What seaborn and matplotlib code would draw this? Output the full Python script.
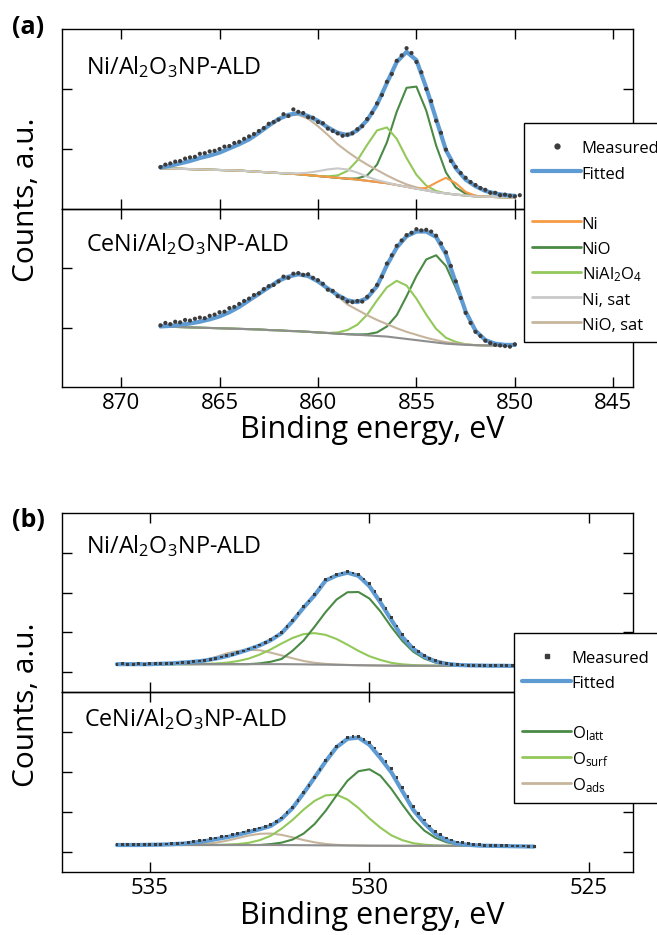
import numpy as np
import matplotlib
matplotlib.use("Agg")
import matplotlib.pyplot as plt
import seaborn as sns
from matplotlib.lines import Line2D

# ---------------- Panel (a): Ni 2p, energy grid 868 -> 850 eV (0.5 eV), measured 0.25 eV
a_grid = np.arange(868.0, 849.9, -0.5)
a1_meas_x = np.arange(868.0, 849.6, -0.25)
a2_meas_x = np.arange(868.0, 849.9, -0.25)

# top: Ni/Al2O3NP-ALD
a1_bg = [.68, .675, .67, .665, .66, .655, .65, .645, .64, .63,
         .62, .61, .60, .59, .58, .565, .55, .535, .52, .505,
         .49, .47, .45, .43, .40, .37, .34, .31, .28, .26,
         .24, .225, .21, .205, .20, .195, .19]
a1_fit = [.69, .72, .76, .80, .85, .89, .94, 1.01, 1.08, 1.16,
          1.27, 1.39, 1.50, 1.57, 1.60, 1.55, 1.47, 1.36, 1.27, 1.23,
          1.31, 1.48, 1.74, 2.10, 2.45, 2.62, 2.48, 2.02, 1.50, .98,
          .68, .49, .38, .30, .26, .23, .22]
a1_ni = [0] * 27 + [.04, .16, .26, .19, .06, .01, 0, 0, 0, 0]
a1_nio = [0] * 20 + [.02, .09, .29, .68, 1.22, 1.65, 1.70, 1.33, .78, .35, .12, .03, .01, 0, 0, 0, 0]
a1_nial2o4 = [0] * 17 + [.01, .04, .13, .32, .60, .86, .93, .77, .48, .23, .08, .02, 0, 0, 0, 0, 0, 0, 0, 0]
a1_ni_sat = [0] * 13 + [.004, .014, .04, .08, .125, .157, .153, .116, .069, .032, .011] + [0] * 13
a1_nio_sat = [.01, .045, .09, .135, .19, .235, .29, .365, .44, .53,
              .65, .77, .89, .97, .99, .94, .83, .70, .56, .45,
              .35, .27, .20, .13, .08, .04, .02, .01, 0, 0,
              0, 0, 0, 0, 0, 0, 0]
a1_meas = [.70, .74, .76, .79, .80, .84, .86, .87, .92, .93,
           .96, .97, 1.00, 1.04, 1.05, 1.10, 1.12, 1.17, 1.21, 1.25,
           1.30, 1.35, 1.42, 1.45, 1.49, 1.58, 1.55, 1.66, 1.62, 1.60,
           1.53, 1.52, 1.45, 1.43, 1.34, 1.30, 1.26, 1.22, 1.24, 1.26,
           1.33, 1.38, 1.50, 1.60, 1.76, 1.90, 2.12, 2.25, 2.47, 2.56,
           2.68, 2.60, 2.45, 2.28, 2.00, 1.80, 1.47, 1.27, .99, .80,
           .70, .60, .52, .45, .40, .35, .32, .27, .27, .23,
           .24, .22, .21, .23]

# bottom: CeNi/Al2O3NP-ALD
a2_bg = [1.02, 1.015, 1.01, 1.005, 1.0, .995, .99, .985, .98, .975,
         .97, .96, .955, .945, .94, .93, .92, .91, .90, .89,
         .88, .87, .86, .85, .83, .81, .79, .77, .75, .73,
         .72, .71, .705, .70, .70, .70, .70]
a2_fit = [1.02, 1.03, 1.05, 1.07, 1.10, 1.14, 1.19, 1.26, 1.35, 1.46,
          1.57, 1.68, 1.79, 1.86, 1.90, 1.87, 1.78, 1.66, 1.55, 1.46,
          1.43, 1.50, 1.70, 2.05, 2.35, 2.54, 2.62, 2.62, 2.53, 2.24,
          1.76, 1.27, .95, .79, .73, .71, .71]
a2_nio = [0] * 20 + [.005, .02, .06, .17, .38, .72, 1.08, 1.38, 1.47, 1.31, .95, .57, .24, .09, .03, .01, 0]
a2_nial2o4 = [0] * 18 + [.02, .07, .17, .35, .60, .83, .96, .90, .70, .45, .23, .10, .04, .01, 0, 0, 0, 0, 0]
a2_nio_sat = [0, .015, .04, .065, .10, .145, .20, .275, .37, .485,
              .60, .72, .835, .915, .96, .94, .86, .75, .63, .50,
              .42, .34, .27, .21, .16, .12, .09, .06, .04, .025,
              .015, .01, 0, 0, 0, 0, 0]
a2_meas = [1.04, 1.08, 1.06, 1.10, 1.09, 1.13, 1.12, 1.15, 1.17, 1.16,
           1.20, 1.22, 1.26, 1.27, 1.33, 1.35, 1.40, 1.45, 1.49, 1.55,
           1.58, 1.65, 1.70, 1.72, 1.78, 1.86, 1.84, 1.91, 1.92, 1.89,
           1.90, 1.84, 1.80, 1.74, 1.64, 1.62, 1.53, 1.50, 1.44, 1.43,
           1.45, 1.44, 1.52, 1.62, 1.72, 1.86, 2.08, 2.22, 2.38, 2.47,
           2.56, 2.60, 2.66, 2.64, 2.65, 2.62, 2.55, 2.42, 2.27, 2.04,
           1.78, 1.50, 1.25, 1.08, .93, .86, .78, .74, .71, .70,
           .69, .68, .72]

# ---------------- Panel (b): O 1s, grid 535.75 -> 526.25 eV (0.25 eV), measured 0.125 eV
b_grid = np.arange(535.75, 526.2, -0.25)
b_meas_x = np.arange(535.75, 526.2, -0.125)

b1_bg = [.20] * 16 + [.198, .195, .19, .187, .183, .178, .173, .169, .166, .163, .161, .16] + \
        [.16, .16, .159, .158, .158, .157, .157, .156, .156, .155, .155]
b1_fit = [.20, .20, .20, .20, .21, .22, .24, .26, .29, .34,
          .40, .48, .57, .67, .80, .98, 1.28, 1.62, 1.93, 2.30,
          2.43, 2.50, 2.42, 2.16, 1.75, 1.31, .88, .58, .39, .27,
          .21, .18, .17, .165, .16, .16, .155, .155, .155]
b1_olatt = [0] * 13 + [.02, .06, .13, .34, .60, .95, 1.32, 1.64, 1.83, 1.84, 1.68, 1.36, .97, .62, .35, .18,
                       .08, .03, .01] + [0] * 7
b1_osurf = [0] * 8 + [.007, .017, .037, .077, .14, .24, .37, .52, .66, .76, .79, .75, .65, .51, .36, .23, .14,
                      .07, .035, .016, .006] + [0] * 10
b1_oads = [0] * 5 + [.008, .02, .045, .10, .18, .27, .33, .36, .35, .29, .22, .15, .085, .044, .02, .008,
                     .003] + [0] * 17
b1_meas = [.20, .21, .20, .20, .21, .20, .21, .21, .21, .22,
           .22, .23, .25, .25, .27, .28, .30, .32, .35, .38,
           .41, .45, .49, .53, .58, .63, .68, .75, .82, .91,
           1.00, 1.15, 1.30, 1.47, 1.64, 1.79, 1.95, 2.14, 2.32, 2.39,
           2.45, 2.49, 2.52, 2.49, 2.45, 2.34, 2.22, 2.02, 1.82, 1.60,
           1.38, 1.16, .94, .78, .63, .52, .42, .35, .29, .25,
           .22, .20, .19, .18, .175, .17, .17, .165, .165, .16,
           .16, .16, .16, .16, .155, .16, .155]

b2_bg = [.175] * 12 + [.175, .175, .174, .173, .172, .170, .168, .166, .164, .162, .160, .158, .157, .156,
                       .155, .155] + [.155, .155, .155, .155, .155, .155, .152, .149, .146, .142, .138]
b2_fit = [.175, .175, .175, .18, .185, .195, .21, .235, .27, .32,
          .37, .43, .50, .57, .65, .83, 1.10, 1.47, 1.86, 2.26,
          2.62, 2.83, 2.86, 2.68, 2.35, 1.99, 1.52, 1.05, .72, .45,
          .30, .21, .18, .16, .155, .15, .145, .14, .135]
b2_olatt = [0] * 14 + [.024, .061, .14, .29, .53, .86, 1.25, 1.62, 1.86, 1.91, 1.75, 1.42, 1.03, .66, .38, .20,
                       .09, .036, .013, .004] + [0] * 5
b2_osurf = [0] * 10 + [.009, .023, .055, .12, .23, .41, .63, .89, 1.11, 1.25, 1.27, 1.15, .94, .68, .45, .26,
                       .14, .065, .028, .01] + [0] * 9
b2_oads = [0] * 7 + [.011, .027, .058, .107, .171, .236, .28, .288, .255, .195, .129, .074, .036, .015, .006,
                     .002] + [0] * 16
b2_meas = [.18, .18, .185, .18, .185, .18, .19, .19, .195, .20,
           .21, .215, .225, .24, .26, .28, .30, .33, .35, .38,
           .40, .43, .46, .50, .53, .57, .60, .64, .68, .77,
           .85, .98, 1.11, 1.29, 1.48, 1.67, 1.87, 2.07, 2.28, 2.46,
           2.64, 2.75, 2.86, 2.88, 2.89, 2.82, 2.74, 2.60, 2.45, 2.27,
           2.09, 1.86, 1.62, 1.38, 1.14, .96, .80, .65, .51, .43,
           .35, .30, .25, .23, .21, .195, .18, .17, .165, .16,
           .16, .155, .15, .15, .15, .145, .14]

sample_labels = [r"Ni/Al$_2$O$_3$NP-ALD", r"CeNi/Al$_2$O$_3$NP-ALD"]
a_xticks = [870, 865, 860, 855, 850, 845]
b_xticks = [535, 530, 525]

# ---------------- style
C_MEAS = "#3c3c3c"
C_FIT = "#5f9bd3"
C_NI = "#f59a45"
C_DKG = "#4a8a45"
C_LTG = "#93c85a"
C_LGRAY = "#c9c9c9"
C_TAN = "#c6b59d"
C_BG = "#8e8e8e"

sns.set_theme(style="white")
plt.rcParams["font.family"] = ["Open Sans", "DejaVu Sans"]
plt.rcParams["mathtext.fontset"] = "custom"
plt.rcParams["mathtext.rm"] = "Open Sans"
plt.rcParams["mathtext.it"] = "Open Sans:italic"
plt.rcParams["mathtext.bf"] = "Open Sans:bold"
plt.rcParams["mathtext.default"] = "regular"
for k in ["text.color", "axes.labelcolor", "xtick.color", "ytick.color", "axes.edgecolor"]:
    plt.rcParams[k] = "black"

W, H = 657, 935
fig = plt.figure(figsize=(W / 100, H / 100), dpi=100)
fig.patch.set_facecolor("white")


def ax_at(l, t, r, b):
    return fig.add_axes([l / W, 1 - b / H, (r - l) / W, (b - t) / H])


def style_ax(ax, xlim, ylim, xticks, yticks, bottom_labels):
    ax.set_xlim(*xlim)
    ax.set_ylim(*ylim)
    ax.set_xticks(xticks)
    ax.set_yticks(yticks)
    ax.set_xlabel("")
    ax.set_ylabel("")
    for s in ax.spines.values():
        s.set_color("black")
        s.set_linewidth(1.0)
    ax.tick_params(axis="x", which="both", direction="in", top=True, bottom=True, length=7, width=1,
                   color="black", labelbottom=bottom_labels, labeltop=False, labelsize=16, pad=4,
                   labelcolor="black")
    ax.tick_params(axis="y", which="both", direction="in", left=True, right=True, length=7, width=1,
                   color="black", labelleft=False, labelright=False)
    ax.set_facecolor("none")


def line(ax, x, base, comp, color, lw, z):
    y = np.asarray(base, float) + np.asarray(comp, float)
    sns.lineplot(x=x, y=y, ax=ax, color=color, linewidth=lw, errorbar=None, legend=False, zorder=z)


def curve(ax, x, y, color, lw, z):
    sns.lineplot(x=x, y=np.asarray(y, float), ax=ax, color=color, linewidth=lw, errorbar=None,
                 legend=False, zorder=z)


def dots(ax, x, y, marker, s):
    sns.scatterplot(x=x, y=np.asarray(y, float), ax=ax, color=C_MEAS, marker=marker, s=s,
                    edgecolor="none", linewidth=0, legend=False, zorder=6)


# ---- panel a
ax_a1 = ax_at(62, 29, 633, 209)
curve(ax_a1, a_grid, a1_bg, C_BG, 1.5, 2)
line(ax_a1, a_grid, a1_bg, a1_nio, C_DKG, 1.5, 3)
line(ax_a1, a_grid, a1_bg, a1_nial2o4, C_LTG, 1.5, 3)
line(ax_a1, a_grid, a1_bg, a1_nio_sat, C_TAN, 1.5, 3)
line(ax_a1, a_grid, a1_bg, a1_ni, C_NI, 1.5, 3)
line(ax_a1, a_grid, a1_bg, a1_ni_sat, C_LGRAY, 1.5, 3)
curve(ax_a1, a_grid, a1_fit, C_FIT, 3.0, 4)
dots(ax_a1, a1_meas_x, a1_meas, "o", 9)
style_ax(ax_a1, (873, 844), (0, 3), a_xticks, [1, 2], False)

ax_a2 = ax_at(62, 209, 633, 387)
line(ax_a2, a_grid, a2_bg, a2_nio, C_DKG, 1.5, 3)
line(ax_a2, a_grid, a2_bg, a2_nial2o4, C_LTG, 1.5, 3)
line(ax_a2, a_grid, a2_bg, a2_nio_sat, C_TAN, 1.5, 3)
curve(ax_a2, a_grid, a2_bg, C_BG, 1.5, 3.5)
curve(ax_a2, a_grid, a2_fit, C_FIT, 3.0, 4)
dots(ax_a2, a2_meas_x, a2_meas, "o", 9)
style_ax(ax_a2, (873, 844), (0, 3), a_xticks, [1, 2], True)

# ---- panel b
ax_b1 = ax_at(62, 513, 633, 692)
line(ax_b1, b_grid, b1_bg, b1_oads, C_TAN, 1.5, 3)
line(ax_b1, b_grid, b1_bg, b1_osurf, C_LTG, 1.5, 3)
line(ax_b1, b_grid, b1_bg, b1_olatt, C_DKG, 1.5, 3)
curve(ax_b1, b_grid, b1_bg, C_BG, 1.5, 3.5)
dots(ax_b1, b_meas_x, b1_meas, "s", 4)
curve(ax_b1, b_grid, b1_fit, C_FIT, 3.0, 4)
style_ax(ax_b1, (537, 524), (-0.5, 4.0), b_xticks, [0, 1, 2, 3], False)

ax_b2 = ax_at(62, 692, 633, 872)
line(ax_b2, b_grid, b2_bg, b2_oads, C_TAN, 1.5, 3)
line(ax_b2, b_grid, b2_bg, b2_osurf, C_LTG, 1.5, 3)
line(ax_b2, b_grid, b2_bg, b2_olatt, C_DKG, 1.5, 3)
curve(ax_b2, b_grid, b2_bg, C_BG, 1.5, 3.5)
dots(ax_b2, b_meas_x, b2_meas, "s", 4)
curve(ax_b2, b_grid, b2_fit, C_FIT, 3.0, 4)
style_ax(ax_b2, (537, 524), (-0.5, 4.0), b_xticks, [0, 1, 2, 3], True)


# ---- texts
def ftext(x, y, s, **kw):
    fig.text(x / W, 1 - y / H, s, **kw)


ftext(86, 67, sample_labels[0], ha="left", va="center", fontsize=16.8)
ftext(86, 244, sample_labels[1], ha="left", va="center", fontsize=16.8)
ftext(86, 546, sample_labels[0], ha="left", va="center", fontsize=16.8)
ftext(84, 719, sample_labels[1], ha="left", va="center", fontsize=16.8)

ftext(12, 15, "(a)", ha="left", va="top", fontsize=18, fontweight="bold")
ftext(12, 508, "(b)", ha="left", va="top", fontsize=18, fontweight="bold")

ftext(27, 200, "Counts, a.u.", ha="center", va="center", rotation=90, fontsize=21.5)
ftext(27, 705, "Counts, a.u.", ha="center", va="center", rotation=90, fontsize=21.5)
ftext(372, 430, "Binding energy, eV", ha="center", va="center", fontsize=22)
ftext(372, 916, "Binding energy, eV", ha="center", va="center", fontsize=22)

# ---- legends (tall handle boxes give every row nearly the same height)
blank = Line2D([], [], linestyle="none")
a_handles = [Line2D([], [], linestyle="none", marker="o", markersize=3.5, color=C_MEAS),
             Line2D([], [], color=C_FIT, linewidth=3.0),
             blank,
             Line2D([], [], color=C_NI, linewidth=2.0),
             Line2D([], [], color=C_DKG, linewidth=2.0),
             Line2D([], [], color=C_LTG, linewidth=2.0),
             Line2D([], [], color=C_LGRAY, linewidth=2.0),
             Line2D([], [], color=C_TAN, linewidth=2.0)]
a_labels = ["Measured", "Fitted", " ", "Ni", "NiO", r"NiAl$_2$O$_4$", "Ni, sat", "NiO, sat"]
b_handles = [Line2D([], [], linestyle="none", marker="s", markersize=2.5, color=C_MEAS),
             Line2D([], [], color=C_FIT, linewidth=3.0),
             blank,
             Line2D([], [], color=C_DKG, linewidth=2.0),
             Line2D([], [], color=C_LTG, linewidth=2.0),
             Line2D([], [], color=C_TAN, linewidth=2.0)]
b_labels = ["Measured", "Fitted", " ", r"O$_{latt}$", r"O$_{surf}$", r"O$_{ads}$"]

for hs, ls, (lx, ly) in [(a_handles, a_labels, (524, 123)), (b_handles, b_labels, (514, 633))]:
    leg = fig.legend(hs, ls, loc="upper left", bbox_to_anchor=(lx / W, 1 - ly / H),
                     bbox_transform=fig.transFigure, frameon=True, fancybox=False, framealpha=1,
                     edgecolor="black", facecolor="white", fontsize=12, handlelength=2.9,
                     handleheight=1.25, handletextpad=0.05, borderpad=0.5, labelspacing=0.40,
                     borderaxespad=0, title=" ", title_fontsize=1)
    leg.get_frame().set_linewidth(1.0)
    for t in leg.get_texts():
        t.set_color("black")

fig.savefig("out.png", dpi=100)
